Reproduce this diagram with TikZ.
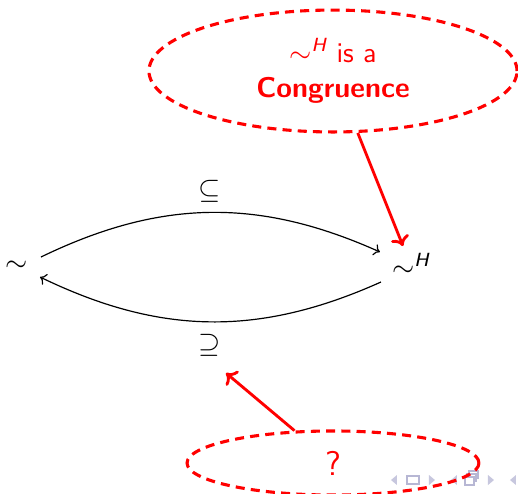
\documentclass[tikz,border=0pt]{standalone}
\usepackage{amsmath}
\usetikzlibrary{shapes.geometric,arrows.meta}
\begin{document}
\begin{tikzpicture}[x=0.42pt,y=-0.42pt, font=\sffamily,
  redell/.style={draw=red, ellipse, line width=1.3pt, dash pattern=on 3.8pt off 2.6pt, inner sep=0pt, text=red},
  redarr/.style={draw=red, line width=1.2pt, -{To[length=4pt,width=8pt,line width=1.2pt]}},
  blackarr/.style={draw=black, line width=0.5pt, -{To[length=2.5pt,width=5pt]}},
  nav/.style={fill=blue!25!gray!35, draw=none},
  navbox/.style={draw=blue!25!gray!45, line width=0.5pt, fill=white},
  lbl/.style={inner sep=0pt, font=\sffamily\fontsize{12}{14}\selectfont}]
\useasboundingbox (0,0) rectangle (518,493);

% navigation symbols
\fill[nav] (397,475) -- (391,480) -- (397,485) -- cycle;
\draw[navbox] (407,476) rectangle (419,484);
\fill[nav] (429,475) -- (435,480) -- (429,485) -- cycle;
\fill[nav] (457,475) -- (451,480) -- (457,485) -- cycle;
\draw[navbox] (469,471) rectangle (478,478);
\draw[navbox] (467,474) rectangle (476,481);
\draw[navbox] (465,477) rectangle (474,485);
\fill[nav] (488,475) -- (494,480) -- (488,485) -- cycle;
\fill[nav] (516,475) -- (510,480) -- (516,485) -- cycle;

% main nodes
\node[lbl] (s) at (17,266) {$\sim$};
\node[lbl] (sh) at (411,265) {$\sim^{\textit{H}}$};

\draw[blackarr] (41,257) coordinate (s1) to[bend left=25]
  node[midway, above=4pt, lbl] (sub) {$\subseteq$} (380,252) coordinate (s2);
\draw[blackarr] (381,282) coordinate (s3) to[bend left=25]
  node[midway, below=5pt, lbl] (sup) {$\supseteq$} (40,277) coordinate (s4);

% red ellipses
\node[redell, minimum width=154.6pt, minimum height=51.2pt, align=center] (cong) at (333,71)
  {\large$\sim^{\textit{H}}$ is a\\[3pt] \large\bfseries Congruence};
\node[redell, minimum width=122.6pt, minimum height=26.9pt] (q) at (333,463)
  {\Large ?};

\coordinate (tipA) at (403,246);
\coordinate (tipB) at (226,373);
\draw[redarr] (cong) -- (tipA);
\draw[redarr] (q) -- (tipB);
\end{tikzpicture}
\end{document}
